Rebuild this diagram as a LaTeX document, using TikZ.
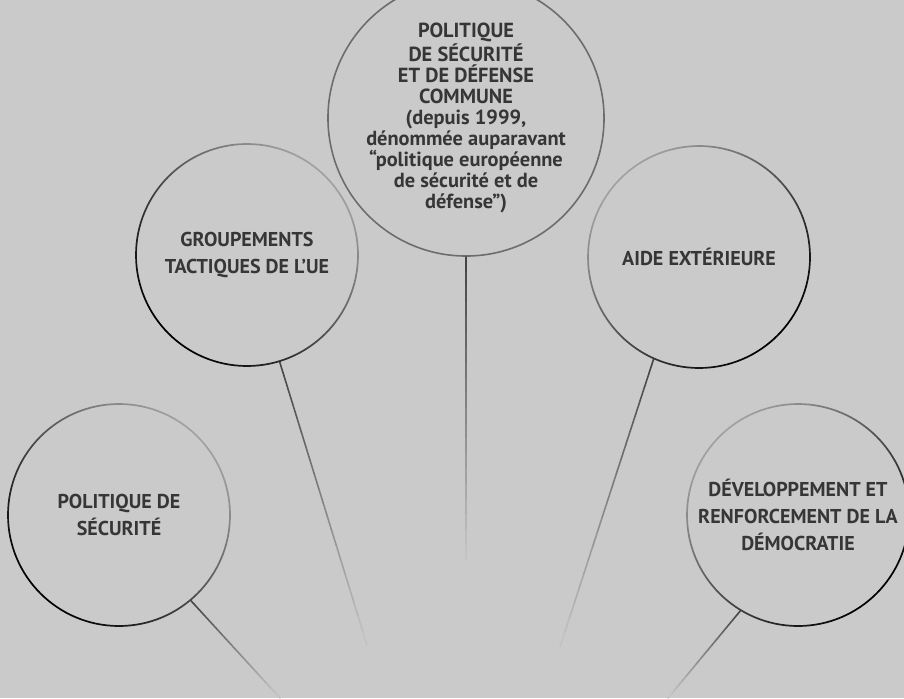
\documentclass[tikz,border=0pt]{standalone}
\usepackage{fontspec}
\setmainfont{PT Sans}
\usepackage{xcolor}
\usetikzlibrary{calc}

\definecolor{bggray}{HTML}{C9CAC9}
\definecolor{textgray}{HTML}{363636}
\definecolor{ringdark}{HTML}{000000}
\definecolor{ringlight}{HTML}{A2A2A2}
\definecolor{ringmid}{HTML}{6C6C6C}
\definecolor{linegray}{HTML}{454545}

% connector that fades into the background
\newcommand{\fadeline}[2]{%
  \foreach \k in {0,...,19}{%
    \pgfmathsetmacro{\ta}{\k/20}%
    \pgfmathsetmacro{\tb}{(\k+1)/20}%
    \pgfmathtruncatemacro{\mix}{100-5*\k}%
    \draw[link, draw=linegray!\mix!bggray] ($(#1)!\ta!(#2)$) -- ($(#1)!\tb!(#2)$);
  }%
}

\begin{document}
\begin{tikzpicture}[
  topic/.style={circle, minimum size=4.44cm, inner sep=0pt, align=center, text=textgray,
    font=\bfseries\fontsize{11.4}{15.4}\selectfont},
  core/.style={topic, draw=ringmid, line width=0.9pt, font=\bfseries\fontsize{11.6}{12}\selectfont},
  ringL/.style={even odd rule, top color=ringdark, bottom color=ringlight, shading angle=135},
  ringR/.style={even odd rule, top color=ringdark, bottom color=ringlight, shading angle=225},
  link/.style={line width=0.9pt, line cap=round}
]
\useasboundingbox (0,0) rectangle (18.08,13.96);
\fill[bggray] (0,0) rectangle (18.08,13.96);

% Topics
\node[core] (pesd) at (9.32,11.60) {POLITIQUE\\DE SÉCURITÉ\\ET DE DÉFENSE\\COMMUNE\\(depuis 1999,\\dénommée auparavant\\“politique européenne\\de sécurité et de\\défense”)};
\node[topic] (gta) at (4.94,8.86) {GROUPEMENTS\\TACTIQUES DE L’UE};
\node[topic] (aide) at (13.98,8.82) {AIDE EXTÉRIEURE};
\node[topic] (sec) at (2.38,3.66) {POLITIQUE DE\\SÉCURITÉ};
\node[topic] (demo) at (15.96,3.66) {DÉVELOPPEMENT ET\\RENFORCEMENT DE LA\\DÉMOCRATIE};

% Loose ends of the connectors
\coordinate (secend) at (5.60,0);
\coordinate (gtaend) at (7.34,1.06);
\coordinate (pesdend) at (9.32,2.76);
\coordinate (aideend) at (11.20,1.02);
\coordinate (demoend) at (13.36,0);

% Connectors
\fadeline{sec.-50}{secend}
\fadeline{gta.-73}{gtaend}
\fadeline{pesd.270}{pesdend}
\fadeline{aide.246}{aideend}
\fadeline{demo.239}{demoend}

% Rings
\shade[ringL] (gta.center) circle (2.237cm) (gta.center) circle (2.203cm);
\shade[ringL] (sec.center) circle (2.237cm) (sec.center) circle (2.203cm);
\shade[ringR] (aide.center) circle (2.237cm) (aide.center) circle (2.203cm);
\shade[ringR] (demo.center) circle (2.237cm) (demo.center) circle (2.203cm);

\end{tikzpicture}
\end{document}
